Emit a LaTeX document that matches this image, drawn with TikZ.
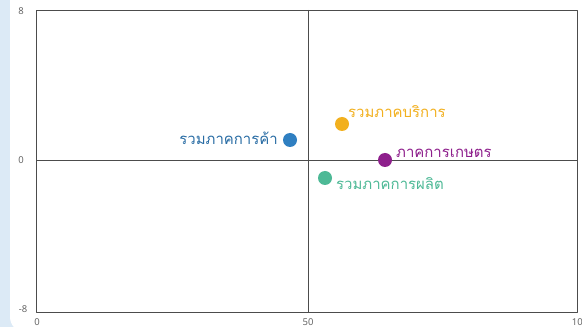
\documentclass[tikz,border=0pt]{standalone}
\usepackage{fontspec}
\newfontfamily\thaifont[Script=Thai]{Loma}
\newfontfamily\tickfont{Noto Sans}
\definecolor{panelcol}{HTML}{DCEAF6}
\definecolor{tradecol}{HTML}{2F7FC1}
\definecolor{servicecol}{HTML}{F2B01E}
\definecolor{farmcol}{HTML}{8E1F8C}
\definecolor{makecol}{HTML}{4DB996}
\definecolor{tickcol}{HTML}{666666}

\begin{document}
\begin{tikzpicture}[x=1bp,y=1bp,line join=bevel,
  dot/.style={circle,inner sep=0pt,minimum size=14bp},
  sector/.style={font=\thaifont\fontsize{15}{17}\selectfont,inner sep=1bp},
  tick/.style={font=\tickfont\fontsize{9.5}{11}\selectfont,text=tickcol,inner sep=0pt}]
  \useasboundingbox (0bp,0bp) rectangle (582bp,327bp);
  %%
  \fill [panelcol] (0bp,0bp) rectangle (582bp,327bp);
  \fill [white,rounded corners=15bp] (10bp,-5bp) rectangle (600bp,340bp);
  % Axes
  \begin{scope}[draw=black!70,line width=0.8bp]
  	\coordinate (sw) at (36bp,15bp);
  	\coordinate (ne) at (577bp,317bp);
  	\draw (sw) rectangle (ne);
  	\coordinate (vtop) at (308bp,317bp);
  	\coordinate (vbot) at (308bp,15bp);
  	\draw (vtop) -- (vbot);
  	\coordinate (hleft) at (36bp,167bp);
  	\coordinate (hright) at (577bp,167bp);
  	\draw (hleft) -- (hright);
  \end{scope}
  % Ticks
  \node [tick] (ytop) at (21bp,316bp) {8};
  \node [tick] (ymid) at (21bp,167bp) {0};
  \node [tick] (ybot) at (23bp,18bp) {-8};
  \node [tick] (xleft) at (37bp,5bp) {0};
  \node [tick] (xmid) at (308bp,5bp) {50};
  \node [tick] (xright) at (580bp,5bp) {100};
  % Node: trade
  \node [dot,fill=tradecol] (trade) at (290bp,187bp) {};
  \node [sector,text=tradecol!85!black,anchor=east] (tradelbl) at (279bp,189bp) {รวมภาคการค้า};
  % Node: service
  \node [dot,fill=servicecol] (service) at (342bp,203bp) {};
  \node [sector,text=servicecol,anchor=west] (servicelbl) at (347bp,215bp) {รวมภาคบริการ};
  % Node: farm
  \node [dot,fill=farmcol] (farm) at (385bp,167bp) {};
  \node [sector,text=farmcol,anchor=west] (farmlbl) at (395bp,174bp) {ภาคการเกษตร};
  % Node: make
  \node [dot,fill=makecol] (make) at (325bp,149bp) {};
  \node [sector,text=makecol,anchor=west] (makelbl) at (335bp,143bp) {รวมภาคการผลิต};
  %
\end{tikzpicture}
\end{document}
